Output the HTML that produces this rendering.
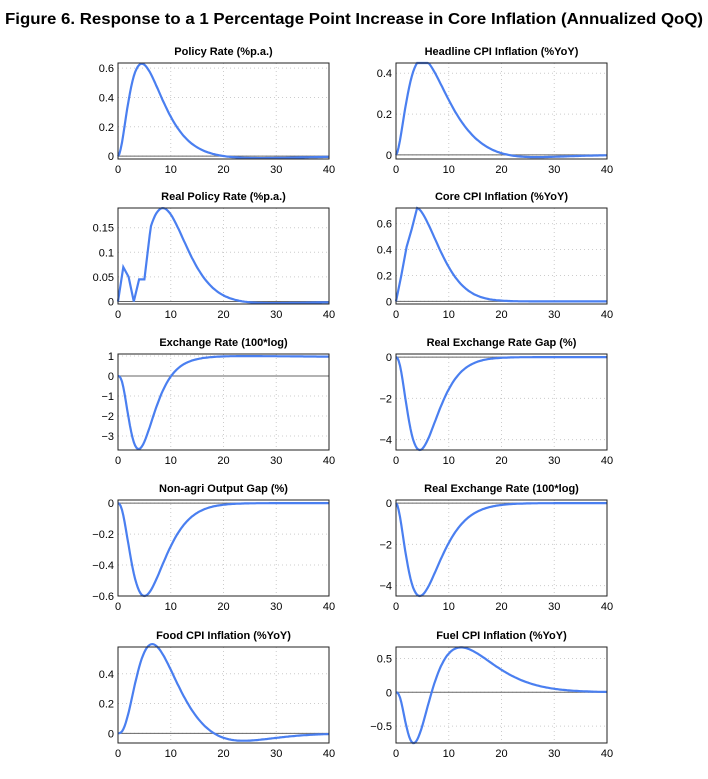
<!DOCTYPE html><html><head><style>body{margin:0;background:#fff}svg{display:block}text{font-family:"Liberation Sans",Arial,sans-serif}</style></head><body>
<svg id="s" width="708" height="779" xmlns="http://www.w3.org/2000/svg">
<text x="5" y="24" font-size="15.5" font-weight="bold" textLength="698" lengthAdjust="spacingAndGlyphs">Figure 6. Response to a 1 Percentage Point Increase in Core Inflation (Annualized QoQ)</text>
</svg>
<script>
const s=document.getElementById('s');let h='';
function H(t,A,tp,k){if(t<=0)return 0;const r=t/tp;return A*Math.pow(r,k)*Math.exp(k*(1-r));}
const rp=[0,0.07,0.05,0,0.045,0.045,0.135];
const P=[
["Policy Rate (%p.a.)",-0.02,0.635,[0,0.2,0.4,0.6],t=>H(t,0.63,4.5,2)-H(t,0.015,25,8)],
["Headline CPI Inflation (%YoY)",-0.02,0.45,[0,0.2,0.4],t=>Math.min(0.45,H(t,0.47,5,1.8))-H(t,0.018,22,10)],
["Real Policy Rate (%p.a.)",-0.005,0.19,[0,0.05,0.1,0.15],t=>t<=6?rp[Math.round(t)]:(H(t,0.19,8.5,5)-H(t,0.004,25,8))],
["Core CPI Inflation (%YoY)",-0.02,0.72,[0,0.2,0.4,0.6],t=>t<=4?[0,0.2,0.42,0.56,0.72][t]:0.72*Math.exp(-Math.pow((t-4)/6,1.6))],
["Exchange Rate (100*log)",-3.7,1.1,[-3,-2,-1,0,1],t=>-H(t,3.8,4,3)+1.0*(1-Math.exp(-Math.pow(t/10,2)))-0.002*Math.max(0,t-24)],
["Real Exchange Rate Gap (%)",-4.5,0.15,[-4,-2,0],t=>-H(t,4.5,4.5,2.5)],
["Non-agri Output Gap (%)",-0.6,0.02,[-0.6,-0.4,-0.2,0],t=>-H(t,0.6,5,2.5)],
["Real Exchange Rate (100*log)",-4.5,0.15,[-4,-2,0],t=>-H(t,4.5,4.5,2)],
["Food CPI Inflation (%YoY)",-0.065,0.58,[0,0.2,0.4],t=>H(t,0.6,6.5,3)-H(t,0.065,21,10)],
["Fuel CPI Inflation (%YoY)",-0.75,0.67,[-0.5,0,0.5],t=>-H(t,0.85,3.7,3)+H(t,0.7,11.5,4)]];
const tops=[63,208,354,500,647],lefts=[118,396],W=211,Ht=96;
P.forEach((p,i)=>{const x0=lefts[i%2],y0=tops[i>>1];const [title,lo,hi,ticks,f]=p;
const X=t=>x0+t/40*W,Y=v=>y0+Ht-(v-lo)/(hi-lo)*Ht;
h+=`<text x="${x0+W/2}" y="${y0-8}" font-size="11" font-weight="bold" text-anchor="middle">${title}</text>`;
for(let t=10;t<40;t+=10)h+=`<line x1="${X(t)}" y1="${y0}" x2="${X(t)}" y2="${y0+Ht}" stroke="#ccc" stroke-dasharray="1,3"/>`;
ticks.forEach(v=>{const y=Y(v);h+=`<line x1="${x0}" y1="${y}" x2="${x0+W}" y2="${y}" stroke="#ccc" stroke-dasharray="1,3"/><text x="${x0-4}" y="${y+4}" font-size="11" text-anchor="end">${String(v).replace('-','\u2212')}</text>`;});
h+=`<line x1="${x0}" y1="${Y(0)}" x2="${x0+W}" y2="${Y(0)}" stroke="#666" stroke-width="1"/>`;
for(let t=0;t<=40;t+=10)h+=`<text x="${X(t)}" y="${y0+Ht+14}" font-size="11" text-anchor="middle">${t}</text>`;
let d='';for(let t=0;t<=40;t+=0.25){const step=(i==2&&t<=6)||(i==3&&t<=4);
if(step&&t%1)continue;const v=f(t);d+=(d?'L':'M')+X(t).toFixed(1)+','+Y(v).toFixed(1);}
h+=`<path d="${d}" fill="none" stroke="#4a7ff0" stroke-width="2.2"/>`;
h+=`<rect x="${x0}" y="${y0}" width="${W}" height="${Ht}" fill="none" stroke="#222" stroke-width="1"/>`;});
s.insertAdjacentHTML('beforeend',h);
</script></body></html>
